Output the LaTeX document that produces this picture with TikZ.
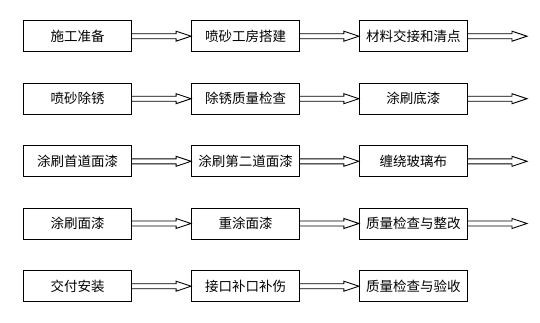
\documentclass[tikz,border=0pt]{standalone}
\usepackage{fontspec}
\newfontfamily\cjk{Noto Sans CJK SC}
\usetikzlibrary{calc}

% hollow double-line arrow from one anchor to another
\newcommand{\hollowarrow}[2]{%
  \draw[flow] ($(#1)+(0,-2.5)$) -- ($(#2)+(-15,-2.5)$) -- ($(#2)+(-15,-5)$)
    -- (#2) -- ($(#2)+(-15,5)$) -- ($(#2)+(-15,2.5)$) -- ($(#1)+(0,2.5)$);}

\begin{document}
\begin{tikzpicture}[
    x=1pt, y=-1pt,
    step box/.style={rectangle, draw=black, line width=0.9pt, minimum width=108pt, minimum height=31pt, inner sep=0pt, font=\cjk\fontsize{13.5}{15}\selectfont},
    flow/.style={draw=black, line width=0.9pt, line join=miter},
]
\useasboundingbox (0,0) rectangle (540,322);

% ===== Row 1 =====
\node[step box] (prep)  at (77.5, 36.2)  {施工准备};
\node[step box] (room)  at (245.5, 36.2) {喷砂工房搭建};
\node[step box] (mat)   at (413.3, 36.2) {材料交接和清点};

% ===== Row 2 =====
\node[step box] (blast) at (77.5, 98.7)  {喷砂除锈};
\node[step box] (rchk)  at (245.5, 98.7) {除锈质量检查};
\node[step box] (prim)  at (413.3, 98.7) {涂刷底漆};

% ===== Row 3 =====
\node[step box] (coat1) at (77.5, 161.3)  {涂刷首道面漆};
\node[step box] (coat2) at (245.5, 161.3) {涂刷第二道面漆};
\node[step box] (wrap)  at (413.3, 161.3) {缠绕玻璃布};

% ===== Row 4 =====
\node[step box] (top)   at (77.5, 223.5)  {涂刷面漆};
\node[step box] (recoat) at (245.5, 223.5) {重涂面漆};
\node[step box] (fix)   at (413.3, 223.5) {质量检查与整改};

% ===== Row 5 =====
\node[step box] (deliv) at (77.5, 286.2)  {交付安装};
\node[step box] (joint) at (245.5, 286.2) {接口补口补伤};
\node[step box] (accept) at (413.3, 286.2) {质量检查与验收};

% ===== Free ends =====
\coordinate (out1) at (527, 36.2);
\coordinate (out2) at (527, 98.7);
\coordinate (out3) at (527, 161.3);
\coordinate (out4) at (527, 223.5);

% ===== Arrows =====
\hollowarrow{prep.east}{room.west}
\hollowarrow{room.east}{mat.west}
\hollowarrow{mat.east}{out1}

\hollowarrow{blast.east}{rchk.west}
\hollowarrow{rchk.east}{prim.west}
\hollowarrow{prim.east}{out2}

\hollowarrow{coat1.east}{coat2.west}
\hollowarrow{coat2.east}{wrap.west}
\hollowarrow{wrap.east}{out3}

\hollowarrow{top.east}{recoat.west}
\hollowarrow{recoat.east}{fix.west}
\hollowarrow{fix.east}{out4}

\hollowarrow{deliv.east}{joint.west}
\hollowarrow{joint.east}{accept.west}

\end{tikzpicture}
\end{document}
